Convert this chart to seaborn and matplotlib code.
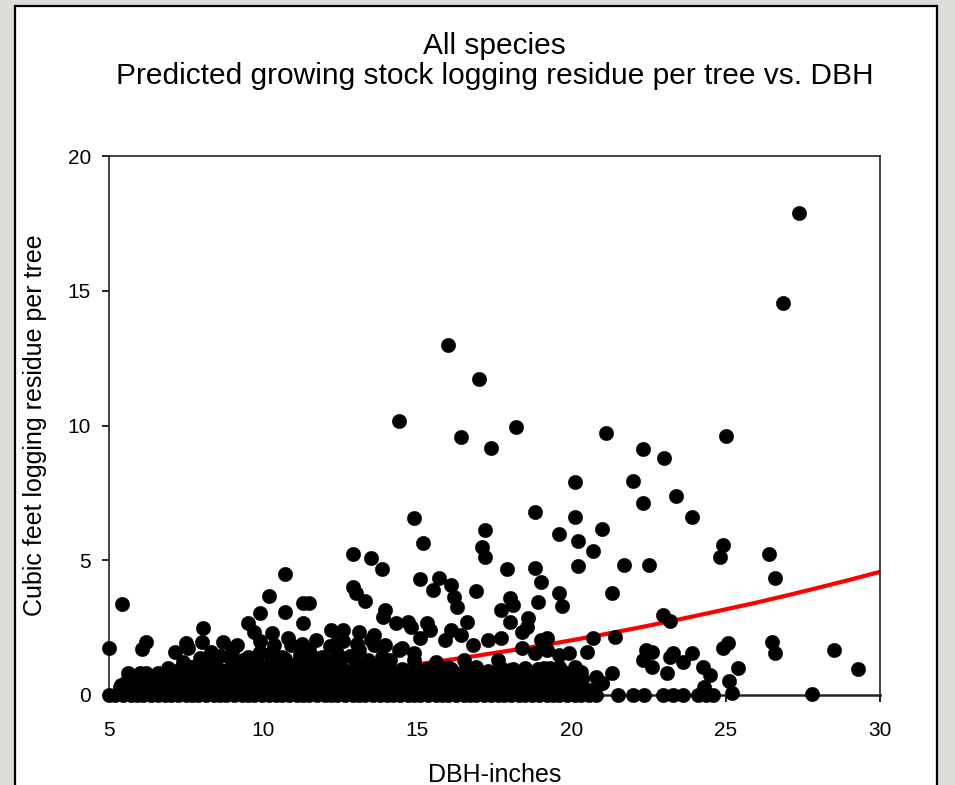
"""Scatter of logging residue per tree vs DBH with fitted prediction curve."""

import numpy as np
import pandas as pd
import matplotlib
matplotlib.use("Agg")
import matplotlib.pyplot as plt
from matplotlib.patches import Rectangle
import seaborn as sns

# sparse points above the dense cloud
dbh_upper = [27.37, 26.85, 16.0, 17.0, 14.4, 16.4, 18.2, 17.4, 21.1, 22.3,
             23.0, 25.0, 20.1, 22.0, 22.3, 23.4, 23.9, 18.8, 20.1, 14.9,
             17.2, 21.0, 19.6, 20.2, 15.18, 17.1, 17.2, 20.7, 12.9, 13.5,
             26.4, 24.9, 24.8, 20.2, 21.7, 22.5, 18.8, 17.9, 13.85, 10.7,
             15.1, 15.7, 16.1, 15.5, 16.2, 16.3, 16.9, 19.0, 12.9, 13.0,
             13.3, 26.6, 21.3, 19.6, 19.7, 18.9, 18.0, 18.1, 17.7, 5.42,
             10.2, 9.9, 10.7, 11.3, 11.5, 13.95, 13.9, 22.96, 23.19]
res_upper = [17.9, 14.55, 12.99, 11.73, 10.17, 9.57, 9.94, 9.16, 9.72, 9.13,
             8.8, 9.6, 7.9, 7.94, 7.12, 7.38, 6.6, 6.79, 6.6, 6.57,
             6.12, 6.16, 5.97, 5.71, 5.64, 5.5, 5.12, 5.34, 5.23, 5.08,
             5.23, 5.56, 5.12, 4.79, 4.82, 4.82, 4.71, 4.68, 4.68, 4.48,
             4.3, 4.34, 4.08, 3.9, 3.64, 3.27, 3.86, 4.19, 4.0, 3.78,
             3.49, 4.34, 3.78, 3.78, 3.3, 3.45, 3.6, 3.34, 3.15, 3.38,
             3.67, 3.04, 3.08, 3.41, 3.41, 3.15, 2.9, 2.97, 2.75]

# points right of the dense cloud
dbh_right = [25.07, 24.9, 26.5, 26.6, 28.5, 29.3, 27.8, 25.4, 25.1, 25.2,
             24.26, 24.5, 24.3, 23.9, 23.6, 23.3, 23.1, 22.6, 22.6, 22.4,
             22.3, 23.2, 21.3, 21.0, 20.8, 20.5, 20.7, 21.4, 20.1]
res_right = [1.93, 1.74, 1.97, 1.56, 1.67, 0.96, 0.04, 1.0, 0.52, 0.07,
             1.04, 0.74, 0.3, 1.56, 1.22, 1.56, 0.82, 1.6, 1.04, 1.67,
             1.3, 1.41, 0.82, 0.45, 0.67, 1.6, 2.11, 2.15, 1.04]

# dense cloud, 5-20 inches
dbh_cloud = [5.35, 5.75, 6.15, 6.5, 6.9, 7.3, 7.7, 8.1, 8.5, 8.9,
             9.3, 9.7, 10.1, 10.5, 10.9, 11.3, 11.7, 12.1, 12.5, 12.9,
             13.3, 13.7, 14.1, 14.5, 14.9, 15.3, 15.7, 16.1, 16.5, 16.9,
             17.3, 17.7, 18.1, 18.5, 18.9, 19.3, 19.7, 20.2, 20.6, 21.0,
             5.6, 6.0, 6.6, 7.1, 7.5, 7.9, 8.3, 8.7, 9.1, 9.5,
             9.9, 10.3, 10.7, 11.1, 11.5, 11.9, 12.3, 12.7, 13.1, 13.5,
             14.0, 14.4, 14.8, 15.2, 15.7, 16.1, 16.5, 16.9, 17.5, 17.9,
             18.3, 18.7, 19.2, 19.6, 20.0, 7.4, 7.7, 8.1, 8.6, 9.0,
             9.4, 9.8, 10.2, 10.6, 11.0, 11.4, 11.8, 12.2, 12.6, 13.0,
             13.4, 13.8, 14.1, 14.9, 15.0, 15.6, 16.0, 16.5, 16.9, 17.6,
             18.0, 19.1, 19.6, 7.15, 7.55, 7.95, 8.3, 8.6, 9.0, 9.5,
             9.9, 10.3, 10.6, 10.9, 11.2, 11.5, 11.9, 12.4, 12.8, 13.1,
             13.6, 13.9, 14.4, 14.5, 14.9, 7.5, 8.0, 8.05, 8.7, 9.15,
             9.5, 9.7, 10.3, 11.3, 12.2, 12.6, 12.4, 13.1, 13.6, 14.3,
             14.7, 14.8, 15.3, 15.4, 15.1, 15.9, 16.1, 16.4, 16.6, 16.8,
             18.0, 18.6, 18.55, 18.4, 17.3, 17.7, 19.0, 19.2, 18.4, 18.8,
             19.2, 19.6, 19.9, 5.0, 6.2, 6.07, 6.2, 5.4]
res_cloud = [0.3, 0.2, 0.4, 0.25, 0.45, 0.3, 0.2, 0.45, 0.3, 0.4,
             0.2, 0.45, 0.3, 0.4, 0.2, 0.45, 0.3, 0.4, 0.25, 0.45,
             0.3, 0.4, 0.2, 0.45, 0.3, 0.4, 0.25, 0.45, 0.3, 0.35,
             0.2, 0.45, 0.3, 0.4, 0.25, 0.4, 0.3, 0.35, 0.2, 0.45,
             0.8, 0.8, 0.8, 0.8, 0.65, 0.85, 0.6, 0.8, 0.7, 0.85,
             0.6, 0.8, 0.7, 0.85, 0.6, 0.75, 0.9, 0.65, 0.8, 0.6,
             0.82, 0.65, 0.85, 0.6, 0.82, 0.6, 0.74, 0.6, 0.82, 0.6,
             0.75, 0.6, 0.7, 0.6, 0.67, 1.22, 1.04, 1.15, 0.93, 1.3,
             1.0, 1.2, 0.95, 1.15, 1.0, 1.25, 1.0, 1.2, 0.95, 1.15,
             1.0, 1.2, 1.3, 1.3, 0.95, 1.22, 1.04, 1.3, 1.04, 1.3,
             0.93, 1.0, 1.04, 1.6, 1.75, 1.37, 1.6, 1.45, 1.65, 1.41,
             1.6, 1.6, 1.4, 1.86, 1.5, 1.67, 1.4, 1.55, 1.45, 1.67,
             1.86, 1.37, 1.67, 1.74, 1.55, 1.93, 1.97, 2.5, 1.97, 1.85,
             2.67, 2.34, 2.3, 2.67, 2.41, 2.41, 1.97, 2.34, 2.23, 2.67,
             2.71, 2.52, 2.67, 2.41, 2.11, 2.04, 2.41, 2.23, 2.71, 1.86,
             2.71, 2.86, 2.52, 2.34, 2.04, 2.11, 2.04, 2.11, 1.74, 1.56,
             1.67, 1.48, 1.56, 1.74, 1.97, 1.7, 0.8, 0.37]

# extra filler rows inside the solid part of the cloud
dbh_fill = [5.55, 5.95, 6.35, 6.75, 7.15, 7.55, 7.95, 8.35, 8.75, 9.15,
            9.55, 9.95, 10.35, 10.75, 11.15, 11.55, 11.95, 12.35, 12.75, 13.15,
            13.55, 13.95, 14.35, 14.75, 15.15, 15.55, 15.95, 16.35, 16.75, 17.15,
            17.55, 17.95, 18.35, 18.75, 19.15, 19.55, 19.95, 20.35,
            6.9, 7.3, 7.7, 8.1, 8.5, 8.9, 9.3, 9.7, 10.1, 10.5,
            10.9, 11.3, 11.7, 12.1, 12.5, 12.9, 13.3, 13.7, 14.1, 14.5,
            14.9, 15.3, 15.7, 16.1, 16.5, 16.9, 17.3, 17.7, 18.1, 18.5,
            18.9, 19.3, 19.7, 20.3,
            8.0, 8.45, 8.9, 9.35, 9.8, 10.25, 10.7, 11.15, 11.6, 12.05,
            12.5, 12.95, 13.4, 13.85,
            9.9, 10.35, 10.8, 11.25, 11.7, 12.15, 12.6, 13.05, 13.5, 13.95]
res_fill = [0.5, 0.6, 0.45, 0.55, 0.5, 0.6, 0.45, 0.55, 0.5, 0.6,
            0.45, 0.55, 0.5, 0.6, 0.45, 0.55, 0.5, 0.6, 0.45, 0.55,
            0.5, 0.6, 0.45, 0.55, 0.5, 0.6, 0.45, 0.55, 0.5, 0.6,
            0.45, 0.55, 0.5, 0.6, 0.45, 0.55, 0.5, 0.6,
            1.0, 0.95, 1.05, 0.9, 1.0, 0.95, 1.05, 0.9, 1.0, 0.95,
            1.05, 0.9, 1.0, 0.95, 1.05, 0.9, 1.0, 0.95, 0.9, 0.95,
            0.85, 0.95, 0.9, 0.95, 0.9, 0.95, 0.9, 1.0, 0.95, 1.0,
            0.95, 1.0, 0.9, 0.85,
            1.35, 1.25, 1.4, 1.3, 1.45, 1.3, 1.35, 1.25, 1.4, 1.3,
            1.35, 1.45, 1.3, 1.4,
            2.0, 1.85, 2.1, 1.9, 2.05, 1.8, 2.0, 1.9, 2.05, 1.85]

# trees with zero residue
dbh_zero = [5.0, 5.2, 5.45, 5.7, 5.9, 6.1, 6.35, 6.6, 6.8, 7.0,
            7.25, 7.5, 7.7, 7.9, 8.15, 8.4, 8.6, 8.8, 9.05, 9.3,
            9.5, 9.7, 9.95, 10.2, 10.4, 10.6, 10.85, 11.1, 11.3, 11.5,
            11.75, 12.0, 12.2, 12.4, 12.65, 12.9, 13.1, 13.3, 13.55, 13.8,
            14.0, 14.2, 14.45, 14.7, 14.9, 15.1, 15.35, 15.6, 15.8, 16.0,
            16.25, 16.5, 16.7, 16.9, 17.15, 17.4, 17.6, 17.8, 18.05, 18.3,
            18.5, 18.7, 18.95, 19.2, 19.4, 19.6, 19.85, 20.1, 20.3, 20.55,
            20.8, 21.5, 22.0, 22.35, 22.96, 23.3, 23.6, 24.1, 24.35, 24.6]

# predicted residue curve
curve_dbh = [5, 6, 7, 8, 9, 10, 11, 12, 13, 14, 15, 16, 17,
             18, 19, 20, 21, 22, 23, 24, 25, 26, 27, 28, 29, 30]
curve_res = [0.13, 0.18, 0.25, 0.33, 0.41, 0.51, 0.61, 0.73, 0.86, 1.00,
             1.14, 1.30, 1.47, 1.65, 1.83, 2.03, 2.24, 2.46, 2.69, 2.93,
             3.18, 3.43, 3.70, 3.98, 4.27, 4.57]

pts = pd.DataFrame({
    "dbh": dbh_upper + dbh_right + dbh_cloud + dbh_fill + dbh_zero,
    "res": res_upper + res_right + res_cloud + res_fill + [0.0] * len(dbh_zero),
})
curve = pd.DataFrame({"dbh": curve_dbh, "res": curve_res})

sns.set_style("ticks")
plt.rcParams["font.family"] = ["Liberation Sans", "DejaVu Sans"]
plt.rcParams["text.color"] = "black"
plt.rcParams["axes.labelcolor"] = "black"

fig = plt.figure(figsize=(9.55, 7.85), dpi=100)
fig.patch.set_facecolor("#dcdcd9")
fig.patches.append(Rectangle((14.5 / 955, -0.05), (937 - 14.5) / 955, 1.05 - 6 / 785,
                             transform=fig.transFigure, facecolor="white",
                             edgecolor="black", linewidth=1.6, zorder=-1))

ax = fig.add_axes([109 / 955, 1 - 695 / 785, 771 / 955, 539 / 785])
sns.lineplot(data=curve, x="dbh", y="res", color="#ff0000", linewidth=3, ax=ax, zorder=2)
sns.scatterplot(data=pts, x="dbh", y="res", color="black", s=108,
                edgecolor="black", linewidth=0.3, ax=ax, zorder=3, clip_on=False)

ax.set_xlim(5, 30)
ax.set_ylim(0, 20)
ax.set_xticks([5, 10, 15, 20, 25, 30])
ax.set_yticks([0, 5, 10, 15, 20])
ax.tick_params(direction="out", length=5, width=1.2, labelsize=15, colors="black")
ax.tick_params(axis="x", pad=14)
ax.tick_params(axis="y", pad=8)
for side in ["left", "bottom", "top", "right"]:
    ax.spines[side].set_visible(True)
    ax.spines[side].set_color("#222222")
    ax.spines[side].set_linewidth(1.2)
ax.spines["bottom"].set_linewidth(1.8)

ax.set_xlabel("DBH-inches", fontsize=18, labelpad=16)
ax.set_ylabel("Cubic feet logging residue per tree", fontsize=18, labelpad=15)

cx = (109 + 880) / 2 / 955
fig.text(cx, 1 - 46 / 785, "All species", fontsize=21.5, ha="center", va="center")
fig.text(cx, 1 - 76 / 785, "Predicted growing stock logging residue per tree vs. DBH",
         fontsize=21.5, ha="center", va="center")

plt.savefig("out.png", dpi=100, facecolor=fig.get_facecolor())
plt.close()
